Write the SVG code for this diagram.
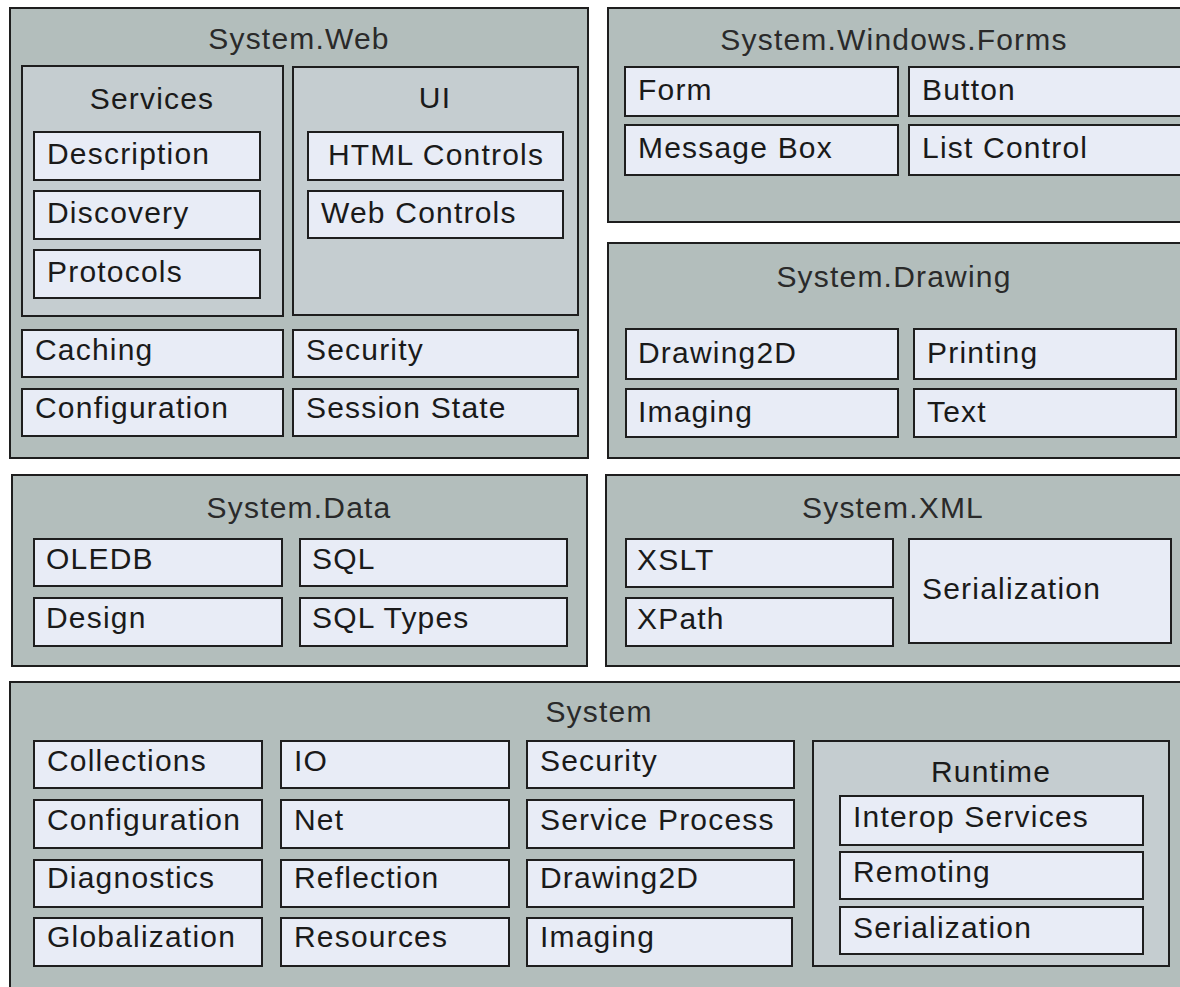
<svg xmlns="http://www.w3.org/2000/svg" width="1180" height="987" viewBox="0 0 1180 987">
<style>
.outer{fill:#b3bebc;stroke:#1e1e1e;stroke-width:2}
.group{fill:#c5cdd0;stroke:#1e1e1e;stroke-width:2}
.leaf{fill:#e8ecf6;stroke:#1e1e1e;stroke-width:2}
text{font-family:"Liberation Sans",Arial,sans-serif;font-size:30px;letter-spacing:1.2px;fill:#1a1a1a}
.c{text-anchor:middle}
.h{fill:#2a2a2a}
</style>
<rect x="0" y="0" width="1180" height="987" fill="#ffffff"/>

<g id="system-web">
<rect class="outer" x="10" y="8" width="578" height="450"/>
<text class="c h" x="299" y="49">System.Web</text>
<g id="web-services">
<rect class="group" x="22" y="66" width="261" height="250"/>
<text class="c" x="152" y="109">Services</text>
<g id="web-description"><rect class="leaf" x="34" y="132" width="226" height="48"/><text x="47" y="164">Description</text></g>
<g id="web-discovery"><rect class="leaf" x="34" y="191" width="226" height="48"/><text x="47" y="223">Discovery</text></g>
<g id="web-protocols"><rect class="leaf" x="34" y="250" width="226" height="48"/><text x="47" y="282">Protocols</text></g>
</g>
<g id="web-ui">
<rect class="group" x="293" y="67" width="285" height="248"/>
<text class="c" x="435" y="108">UI</text>
<g id="web-html-controls"><rect class="leaf" x="308" y="132" width="255" height="48"/><text class="c" x="436" y="165">HTML Controls</text></g>
<g id="web-web-controls"><rect class="leaf" x="308" y="191" width="255" height="47"/><text x="321" y="223">Web Controls</text></g>
</g>
<g id="web-caching"><rect class="leaf" x="22" y="330" width="261" height="47"/><text x="35" y="360">Caching</text></g>
<g id="web-security"><rect class="leaf" x="293" y="330" width="285" height="47"/><text x="306" y="360">Security</text></g>
<g id="web-configuration"><rect class="leaf" x="22" y="389" width="261" height="47"/><text x="35" y="418">Configuration</text></g>
<g id="web-session-state"><rect class="leaf" x="293" y="389" width="285" height="47"/><text x="306" y="418">Session State</text></g>
</g>

<g id="system-windows-forms">
<rect class="outer" x="608" y="8" width="590" height="214"/>
<text class="c h" x="894" y="50">System.Windows.Forms</text>
<g id="wf-form"><rect class="leaf" x="625" y="67" width="273" height="49"/><text x="638" y="100">Form</text></g>
<g id="wf-button"><rect class="leaf" x="909" y="67" width="290" height="49"/><text x="922" y="100">Button</text></g>
<g id="wf-message-box"><rect class="leaf" x="625" y="125" width="273" height="50"/><text x="638" y="158">Message Box</text></g>
<g id="wf-list-control"><rect class="leaf" x="909" y="125" width="290" height="50"/><text x="922" y="158">List Control</text></g>
</g>

<g id="system-drawing">
<rect class="outer" x="608" y="243" width="590" height="215"/>
<text class="c h" x="894" y="287">System.Drawing</text>
<g id="dr-drawing2d"><rect class="leaf" x="626" y="329" width="272" height="50"/><text x="638" y="363">Drawing2D</text></g>
<g id="dr-printing"><rect class="leaf" x="914" y="329" width="262" height="50"/><text x="927" y="363">Printing</text></g>
<g id="dr-imaging"><rect class="leaf" x="626" y="389" width="272" height="48"/><text x="638" y="422">Imaging</text></g>
<g id="dr-text"><rect class="leaf" x="914" y="389" width="262" height="48"/><text x="927" y="422">Text</text></g>
</g>

<g id="system-data">
<rect class="outer" x="12" y="475" width="575" height="191"/>
<text class="c h" x="299" y="518">System.Data</text>
<g id="data-oledb"><rect class="leaf" x="34" y="539" width="248" height="47"/><text x="46" y="569">OLEDB</text></g>
<g id="data-sql"><rect class="leaf" x="300" y="539" width="267" height="47"/><text x="312" y="569">SQL</text></g>
<g id="data-design"><rect class="leaf" x="34" y="598" width="248" height="48"/><text x="46" y="628">Design</text></g>
<g id="data-sql-types"><rect class="leaf" x="300" y="598" width="267" height="48"/><text x="312" y="628">SQL Types</text></g>
</g>

<g id="system-xml">
<rect class="outer" x="606" y="475" width="592" height="191"/>
<text class="c h" x="893" y="518">System.XML</text>
<g id="xml-xslt"><rect class="leaf" x="626" y="539" width="267" height="48"/><text x="637" y="570">XSLT</text></g>
<g id="xml-xpath"><rect class="leaf" x="626" y="598" width="267" height="48"/><text x="637" y="629">XPath</text></g>
<g id="xml-serialization"><rect class="leaf" x="909" y="539" width="262" height="104"/><text x="922" y="599">Serialization</text></g>
</g>

<g id="system">
<rect class="outer" x="10" y="682" width="1190" height="330"/>
<text class="c h" x="599" y="722">System</text>
<g id="sys-collections"><rect class="leaf" x="34" y="741" width="228" height="47"/><text x="47" y="771">Collections</text></g>
<g id="sys-configuration"><rect class="leaf" x="34" y="800" width="228" height="48"/><text x="47" y="830">Configuration</text></g>
<g id="sys-diagnostics"><rect class="leaf" x="34" y="860" width="228" height="47"/><text x="47" y="888">Diagnostics</text></g>
<g id="sys-globalization"><rect class="leaf" x="34" y="918" width="228" height="48"/><text x="47" y="947">Globalization</text></g>
<g id="sys-io"><rect class="leaf" x="281" y="741" width="228" height="47"/><text x="294" y="771">IO</text></g>
<g id="sys-net"><rect class="leaf" x="281" y="800" width="228" height="48"/><text x="294" y="830">Net</text></g>
<g id="sys-reflection"><rect class="leaf" x="281" y="860" width="228" height="47"/><text x="294" y="888">Reflection</text></g>
<g id="sys-resources"><rect class="leaf" x="281" y="918" width="228" height="48"/><text x="294" y="947">Resources</text></g>
<g id="sys-security"><rect class="leaf" x="527" y="741" width="267" height="47"/><text x="540" y="771">Security</text></g>
<g id="sys-service-process"><rect class="leaf" x="527" y="800" width="267" height="48"/><text x="540" y="830">Service Process</text></g>
<g id="sys-drawing2d"><rect class="leaf" x="527" y="860" width="267" height="47"/><text x="540" y="888">Drawing2D</text></g>
<g id="sys-imaging"><rect class="leaf" x="527" y="918" width="265" height="48"/><text x="540" y="947">Imaging</text></g>
<g id="sys-runtime">
<rect class="group" x="813" y="741" width="356" height="225"/>
<text class="c" x="991" y="782">Runtime</text>
<g id="rt-interop-services"><rect class="leaf" x="840" y="796" width="303" height="49"/><text x="853" y="827">Interop Services</text></g>
<g id="rt-remoting"><rect class="leaf" x="840" y="852" width="303" height="47"/><text x="853" y="882">Remoting</text></g>
<g id="rt-serialization"><rect class="leaf" x="840" y="907" width="303" height="47"/><text x="853" y="938">Serialization</text></g>
</g>
</g>

<g id="connectors"></g>
</svg>
